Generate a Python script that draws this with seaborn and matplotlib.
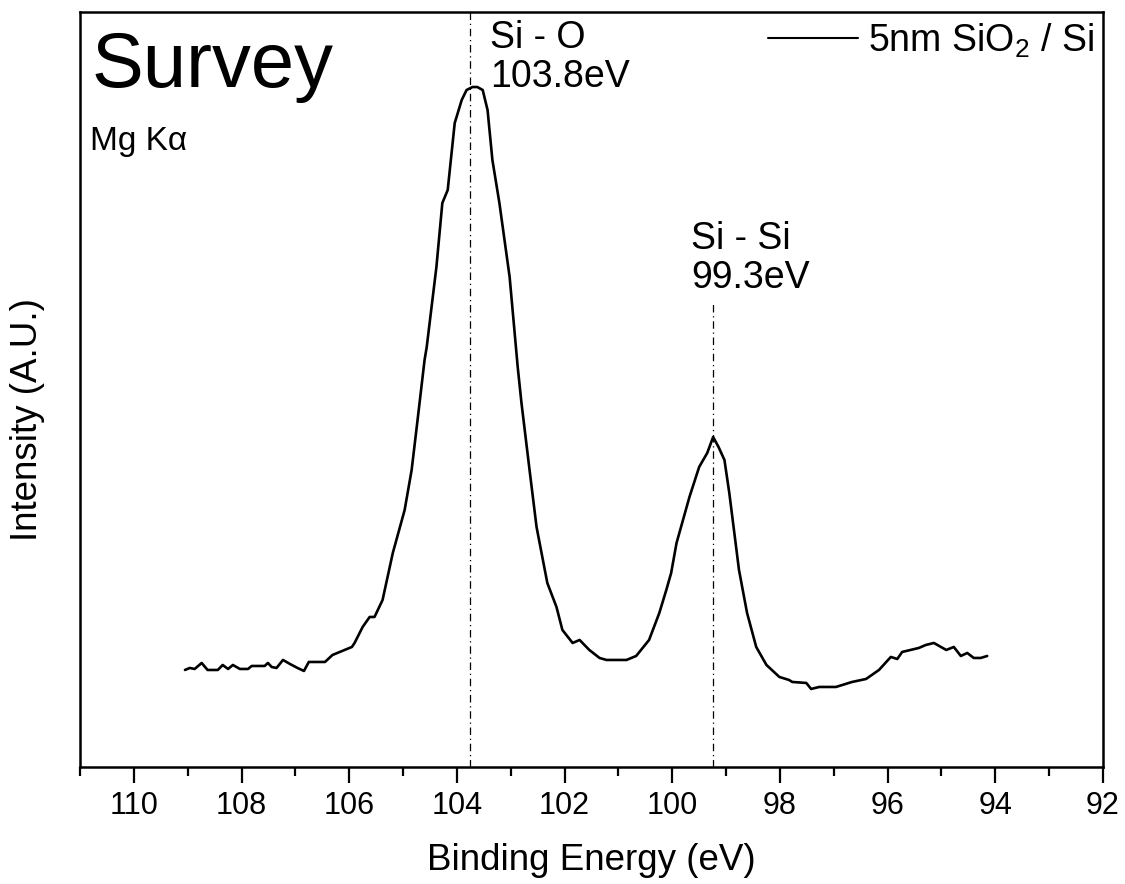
import matplotlib
matplotlib.use("Agg")
import matplotlib.pyplot as plt
import seaborn as sns
import pandas as pd
from matplotlib.ticker import MultipleLocator

sns.set_theme(style="white")
plt.rcParams['font.family'] = ['Liberation Sans', 'DejaVu Sans']
plt.rcParams['mathtext.fontset'] = 'custom'
plt.rcParams['mathtext.rm'] = 'Liberation Sans'
plt.rcParams['mathtext.it'] = 'Liberation Sans:italic'
plt.rcParams['text.color'] = 'black'
plt.rcParams['axes.labelcolor'] = 'black'
plt.rcParams['xtick.color'] = 'black'

binding_energy = [109.05, 108.96, 108.87, 108.74, 108.63, 108.44, 108.35, 108.25, 108.16, 108.03,
                  107.88, 107.81, 107.57, 107.51, 107.44, 107.35, 107.23, 107.10, 106.96, 106.84,
                  106.75, 106.45, 106.31, 105.95, 105.90, 105.75, 105.62, 105.53, 105.38, 105.19,
                  104.97, 104.84, 104.73, 104.60, 104.56, 104.38, 104.27, 104.17, 104.04, 103.91,
                  103.82, 103.71, 103.62, 103.52, 103.43, 103.34, 103.21, 103.02, 102.87, 102.80,
                  102.65, 102.52, 102.32, 102.15, 102.04, 101.85, 101.72, 101.54, 101.35, 101.22,
                  100.85, 100.67, 100.43, 100.24, 100.11, 100.02, 99.92, 99.68, 99.50, 99.35,
                  99.24, 99.14, 99.03, 98.94, 98.76, 98.61, 98.44, 98.25, 98.01, 97.83,
                  97.77, 97.51, 97.42, 97.27, 96.96, 96.66, 96.40, 96.16, 95.94, 95.82,
                  95.73, 95.42, 95.29, 95.14, 94.91, 94.77, 94.64, 94.52, 94.40, 94.27,
                  94.15]
intensity = [97, 99, 98, 104, 97, 97, 102, 98, 102, 98,
             98, 101, 101, 104, 100, 99, 107, 103, 99, 96,
             105, 105, 112, 120, 124, 140, 150, 150, 167, 214,
             257, 297, 347, 407, 420, 500, 564, 577, 644, 667,
             677, 680, 680, 677, 657, 607, 564, 490, 400, 364,
             297, 240, 184, 160, 137, 124, 127, 117, 109, 107,
             107, 111, 127, 154, 177, 194, 224, 270, 300, 314,
             330, 320, 307, 274, 197, 154, 120, 102, 90, 87,
             85, 84, 78, 80, 80, 85, 88, 97, 110, 108,
             115, 119, 122, 124, 117, 120, 111, 114, 109, 109,
             111]

peak_positions = [103.75, 99.25]
peak_line_tops = [755, 465]
peak_names = ["Si - O", "Si - Si"]
peak_labels = ["103.8eV", "99.3eV"]
series_name = "5nm SiO$_2$ / Si"

df = pd.DataFrame({"Binding Energy (eV)": binding_energy, "Intensity": intensity})

fig = plt.figure(figsize=(11.25, 8.84), dpi=100)
ax = fig.add_axes([0.0711, 0.1324, 0.9093, 0.854])

sns.lineplot(data=df, x="Binding Energy (eV)", y="Intensity", ax=ax, color="black",
             linewidth=1.9, label=series_name, sort=False)

for xp, top in zip(peak_positions, peak_line_tops):
    ax.plot([xp, xp], [0, top], color="black", linewidth=0.9, linestyle="-.", dashes=(6, 3, 1, 3))

ax.set_xlim(111, 92)
ax.set_ylim(0, 755)
ax.xaxis.set_major_locator(MultipleLocator(2))
ax.xaxis.set_minor_locator(MultipleLocator(1))
ax.set_yticks([])
ax.tick_params(axis="x", which="major", direction="out", length=11.5, width=1.6,
               bottom=True, labelsize=22, pad=6)
ax.tick_params(axis="x", which="minor", direction="out", length=6.5, width=1.6, bottom=True)
for s in ax.spines.values():
    s.set_visible(True)
    s.set_color("black")
    s.set_linewidth(1.8)

ax.set_xlabel("Binding Energy (eV)", fontsize=26.5, labelpad=16)
ax.set_ylabel("Intensity (A.U.)", fontsize=26.5)
ax.yaxis.set_label_coords(-0.034, 0.46)

ax.text(0.0117, 0.9007, "Survey", transform=ax.transAxes, fontsize=56, va="baseline", ha="left")
ax.text(0.0098, 0.817, "Mg K\u03b1", transform=ax.transAxes, fontsize=24, va="baseline", ha="left")

ax.text(103.39, 729, peak_names[0], fontsize=27, va="center", ha="left")
ax.text(103.39, 690, peak_labels[0], fontsize=27, va="center", ha="left")
ax.text(99.65, 528, peak_names[1], fontsize=27, va="center", ha="left")
ax.text(99.65, 489, peak_labels[1], fontsize=27, va="center", ha="left")

leg = ax.legend(loc="upper right", frameon=False, fontsize=27, handlelength=2.4,
                handletextpad=0.25, borderaxespad=0.15, borderpad=0.1)
for line in leg.get_lines():
    line.set_linewidth(1.5)

fig.savefig("out.png", dpi=100, facecolor="white")
